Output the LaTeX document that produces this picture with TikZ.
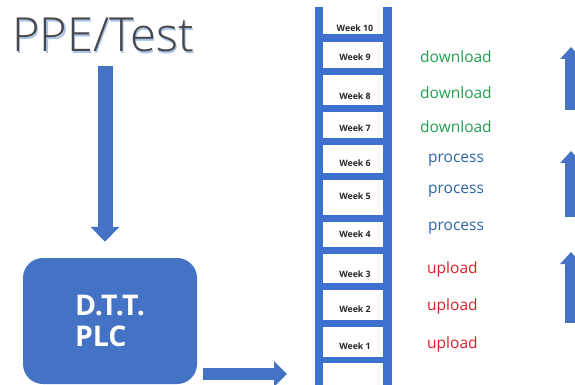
\documentclass[tikz,border=0pt]{standalone}
\usepackage{fontspec}
\setmainfont{Open Sans}
\IfFontExistsTF{Open Sans Light}{\newfontfamily\ttlfont{Open Sans Light}}{\newfontfamily\ttlfont{Open Sans}}
\usetikzlibrary{arrows.meta}
\definecolor{obl}{RGB}{68,114,196}
\definecolor{lad}{RGB}{62,112,208}
\definecolor{dlg}{RGB}{34,160,80}
\definecolor{prb}{RGB}{46,100,170}
\definecolor{upr}{RGB}{226,30,40}
\definecolor{ttl}{RGB}{70,70,75}
\definecolor{shd}{RGB}{170,196,232}
\tikzset{
  weeklbl/.style={font=\bfseries\fontsize{8.8}{10}\selectfont, text=black!85, inner sep=0pt},
  actlbl/.style={anchor=west, font=\fontsize{15.5}{18}\selectfont, inner sep=0pt},
  rail/.style={fill=lad, draw=none},
}
\begin{document}
\begin{tikzpicture}[x=1pt,y=-1pt]
\useasboundingbox (0,0) rectangle (575,385);
\fill[white] (0,0) rectangle (575,385);
% title with shadow
\node[text=shd, font=\ttlfont\fontsize{47}{52}\selectfont, inner sep=0pt] at (104.5,36.5) {PPE/Test};
\node (title) [text=ttl, font=\ttlfont\fontsize{47}{52}\selectfont, inner sep=0pt] at (103,35) {PPE/Test};
% DTT box
\node (box) [fill=obl, rounded corners=20pt, minimum width=174pt, minimum height=126pt,
  text=white, font=\bfseries\fontsize{28.5}{31}\selectfont, align=left, inner sep=0pt] at (110,321)
  {D.T.T.\\PLC};
% down arrow
\draw[line width=15pt, obl, -{Triangle[length=15pt,width=28pt]}]
  ([xshift=2pt,yshift=-14pt]title.south) -- ([xshift=-5pt,yshift=16pt]box.north);
% ladder
\fill[rail] (315,7) rectangle (323,385);
\fill[rail] (383,7) rectangle (392,385);
\foreach \a/\b in {34/42,68/75,105/112,138/145,173/180,215/222,247/254,283/290,320/327,357/363}
  \fill[rail] (323,\a) rectangle (383,\b);
\coordinate (ladder) at (315,374);
% right arrow
\draw[line width=12pt, obl, -{Triangle[length=13pt,width=25pt]}]
  ([xshift=6pt,yshift=-53pt]box.east) -- ([xshift=-28pt]ladder);
% week labels
\foreach \w/\y in {10/28,9/57,8/96,7/128,6/163,5/196,4/234,3/274,2/309,1/346}
  \node (w\w) [weeklbl] at (355,\y) {Week \w};
% action labels
\node (d1) [actlbl, text=dlg] at (420,57) {download};
\node (d2) [actlbl, text=dlg] at (420,93) {download};
\node (d3) [actlbl, text=dlg] at (420,127) {download};
\node (p1) [actlbl, text=prb] at (428,160) {process};
\node (p2) [actlbl, text=prb] at (428,191) {process};
\node (p3) [actlbl, text=prb] at (428,228) {process};
\node (u1) [actlbl, text=upr] at (427,269) {upload};
\node (u2) [actlbl, text=upr] at (427,306) {upload};
\node (u3) [actlbl, text=upr] at (427,344) {upload};
% up arrows on right edge
\coordinate (a1b) at (571,110); \coordinate (a1t) at (571,47);
\coordinate (a2b) at (571,217); \coordinate (a2t) at (571,151);
\coordinate (a3b) at (571,323); \coordinate (a3t) at (571,252);
\foreach \i in {1,2,3}
  \draw[line width=12pt, obl, -{Triangle[length=12pt,width=21pt]}] (a\i b) -- (a\i t);
\end{tikzpicture}
\end{document}
